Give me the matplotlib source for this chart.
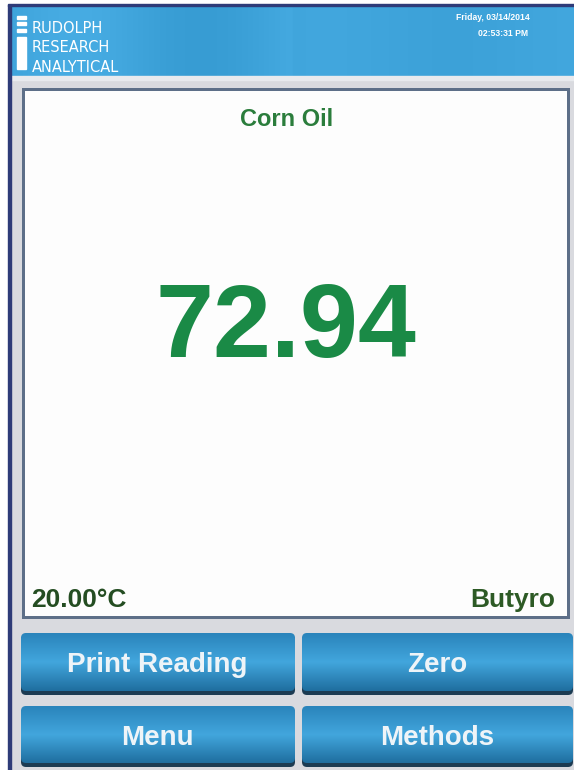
import numpy as np
import matplotlib
matplotlib.use("Agg")
import matplotlib.pyplot as plt
from matplotlib.patches import Rectangle, FancyBboxPatch
from matplotlib import font_manager

# ---- content ----
sample_name = "Corn Oil"
reading = "72.94"
temperature = "20.00°C"
scale_name = "Butyro"
date_text = "Friday, 03/14/2014"
time_text = "02:53:31 PM"
logo_lines = ["RUDOLPH", "RESEARCH", "ANALYTICAL"]
button_labels = ["Print Reading", "Zero", "Menu", "Methods"]

W, H = 574, 770
fig = plt.figure(figsize=(W / 100, H / 100), dpi=100)
ax = fig.add_axes([0, 0, 1, 1])
ax.set_xlim(0, W)
ax.set_ylim(H, 0)
ax.axis("off")
fam = ["Liberation Sans", "DejaVu Sans"]

# pick a condensed family for the logo if one is installed
names = {f.name for f in font_manager.fontManager.ttflist}
narrow = [n for n in ["Noto Sans ExtraCondensed", "Noto Sans Condensed",
                      "Liberation Sans Narrow", "DejaVu Sans Condensed"] if n in names]
logo_fam = (narrow[:1] or ["DejaVu Sans"])
logo_size = 15 if narrow else 10.5

# page background
ax.add_patch(Rectangle((0, 0), W, H, color="white", zorder=0))
ax.add_patch(Rectangle((10, 5), 564, 765, color="#d9dadf", zorder=1))
ax.add_patch(Rectangle((8, 5), 3, 765, color="#2e3b78", zorder=5))
ax.add_patch(Rectangle((8, 4), 566, 2, color="#2e3b78", zorder=5))

# header gradient
hdr = np.linspace(0, 1, 200)
hdr_col = np.zeros((1, 200, 3))
base = np.array([0x3f, 0xa4, 0xdb]) / 255
for i, t in enumerate(hdr):
    stripe = 0.03 * np.sin(t * 14) * (1 if t < 0.5 else 0.3)
    hdr_col[0, i] = np.clip(base + stripe, 0, 1)
ax.imshow(hdr_col, extent=(11, 574, 76, 6), aspect="auto", zorder=2)
ax.add_patch(Rectangle((11, 76), 563, 4, color="#e8eaee", zorder=3))

# logo marks
for y in [17, 23.5, 30]:
    ax.add_patch(Rectangle((17, y - 1.5), 9, 3, color="white", zorder=4))
ax.add_patch(Rectangle((17, 37), 9, 32, color="white", zorder=4))
for k, line in enumerate(logo_lines):
    ax.text(32, 33 + k * 19.5, line, color="white", fontsize=logo_size,
            family=logo_fam, va="baseline", ha="left", zorder=4)
# date/time
ax.text(530, 17, date_text, color="white", fontsize=6.2, fontweight="bold",
        family=fam, ha="right", va="center", zorder=4)
ax.text(528, 33, time_text, color="white", fontsize=6.2, fontweight="bold",
        family=fam, ha="right", va="center", zorder=4)

# main panel
ax.add_patch(Rectangle((22, 88), 548, 531, facecolor="#5d6f88", edgecolor="none", zorder=3))
ax.add_patch(Rectangle((25, 91), 542, 525, facecolor="#fdfdfd", edgecolor="none", zorder=4))

ax.text(287, 126, sample_name, color="#2b7d3c", fontsize=17, fontweight="bold",
        family=fam, ha="center", va="baseline", zorder=6)
ax.text(285.5, 357, reading, color="#1a8a46", fontsize=75, fontweight="bold",
        family=fam, ha="center", va="baseline", zorder=6)
ax.text(31, 607, temperature, color="#244d22", fontsize=19, fontweight="bold",
        family=fam, ha="left", va="baseline", zorder=6)
ax.text(555, 607, scale_name, color="#2d5a25", fontsize=19, fontweight="bold",
        family=fam, ha="right", va="baseline", zorder=6)

# buttons
grad = np.linspace(0, 1, 100)
top = np.array([0x2a, 0x84, 0xbb]) / 255
mid = np.array([0x42, 0xa6, 0xdd]) / 255
bot = np.array([0x1f, 0x6e, 0x9f]) / 255
bcol = np.zeros((100, 1, 3))
for i, t in enumerate(grad):
    if t < 0.5:
        c = top + (mid - top) * (t / 0.5)
    else:
        c = mid + (bot - mid) * ((t - 0.5) / 0.5)
    bcol[i, 0] = c

cols = [(21, 295), (302, 573)]
rows = [(633, 695), (706, 767)]
idx = 0
for (y0, y1) in rows:
    for (x0, x1) in cols:
        shadow = FancyBboxPatch((x0, y0 + 2), x1 - x0, y1 - y0 - 2,
                                boxstyle="round,pad=0,rounding_size=5",
                                facecolor="#1c3b52", edgecolor="none", zorder=3)
        ax.add_patch(shadow)
        clip = FancyBboxPatch((x0, y0), x1 - x0, y1 - y0 - 4,
                              boxstyle="round,pad=0,rounding_size=5",
                              facecolor="none", edgecolor="none", zorder=4)
        ax.add_patch(clip)
        im = ax.imshow(bcol, extent=(x0, x1, y1 - 4, y0), aspect="auto", zorder=4)
        im.set_clip_path(clip)
        ax.text((x0 + x1) / 2 - 0.5, y0 + 39, button_labels[idx], color="#eef4f8",
                fontsize=20, fontweight="bold", family=fam, ha="center",
                va="baseline", zorder=6)
        idx += 1

fig.savefig("out.png", dpi=100)
